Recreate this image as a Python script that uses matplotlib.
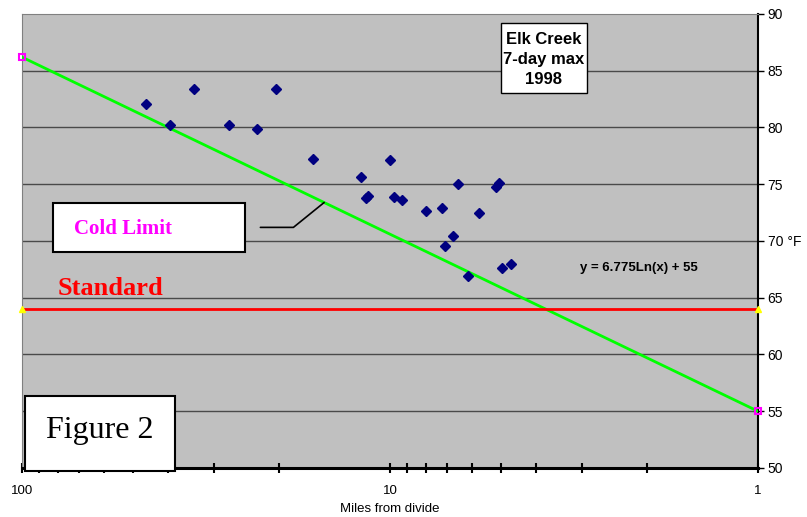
import numpy as np
import matplotlib
matplotlib.use("Agg")
import matplotlib.pyplot as plt
from matplotlib.patches import Rectangle
from matplotlib.ticker import FixedLocator, NullFormatter

############################################################################################################
# data
############################################################################################################

miles = [46.1, 39.5, 34.1, 27.3, 23.0, 20.4, 16.2, 12.0, 11.6, 11.5, 10.0, 9.73,
         9.28, 8.0, 7.21, 7.10, 6.75, 6.52, 6.13, 5.74, 5.15, 5.07, 4.96, 4.70]
temp_f = [82.1, 80.2, 83.4, 80.2, 79.9, 83.4, 77.2, 75.6, 73.8, 74.0, 77.1, 73.9,
          73.6, 72.6, 72.9, 69.6, 70.4, 75.0, 66.9, 72.5, 74.8, 75.1, 67.6, 68.0]

fit_slope = 6.775
fit_intercept = 55.0
fit_x = [100.0, 1.0]

standard_temp = 64.0
standard_x = [100.0, 1.0]

y_ticks = [50, 55, 60, 65, 70, 75, 80, 85, 90]
y_tick_labels = ["50", "55", "60", "65", "70 \u00b0F", "75", "80", "85", "90"]
x_ticks = [100, 10, 1]
x_tick_labels = ["100", "10", "1"]

SANS = "Liberation Sans"
SERIF = "Liberation Serif"

############################################################################################################

fig = plt.figure(figsize=(8.07, 5.17), dpi=100, facecolor="w")
ax = fig.add_axes([22 / 807, 49 / 517, 736 / 807, 454 / 517])
ax.set_facecolor("#c0c0c0")

ax.set_xscale("log")
ax.set_xlim(100, 1)
ax.set_ylim(50, 90)

# gridlines
for yv in y_ticks[1:-1]:
    ax.axhline(yv, color="#4a4a4a", lw=1.0, zorder=1)

# fit line
fx = np.array(fit_x)
fy = fit_slope * np.log(fx) + fit_intercept
ax.plot(fx, fy, color="#00ff00", lw=2, zorder=3)
ax.plot(fx, fy, ls="none", marker="s", ms=4.5, mfc="none", mec="#ff00ff", mew=1.5,
        clip_on=False, zorder=5)

# standard line
ax.plot(standard_x, [standard_temp] * 2, color="#ff0000", lw=2, zorder=3)
ax.plot(standard_x, [standard_temp] * 2, ls="none", marker="^", ms=4, mfc="#ffff00",
        mec="#ffff00", clip_on=False, zorder=5)

# data
ax.plot(miles, temp_f, ls="none", marker="D", ms=5.5, color="#000080", zorder=4)

# axes styling
ax.spines["left"].set_color("#808080")
ax.spines["top"].set_color("#808080")
ax.spines["right"].set_color("#000000")
ax.spines["right"].set_linewidth(1.5)
ax.spines["bottom"].set_color("#000000")
ax.spines["bottom"].set_linewidth(2.2)

ax.yaxis.tick_right()
ax.set_yticks(y_ticks)
ax.set_yticklabels(y_tick_labels, fontname=SANS, fontsize=10)
ax.tick_params(axis="y", which="both", direction="out", length=4, width=1, pad=3, left=False)

ax.xaxis.set_major_locator(FixedLocator(x_ticks))
ax.set_xticklabels(x_tick_labels, fontname=SANS, fontsize=9.5)
minor = [m * d for d in (1, 10) for m in range(2, 10)]
ax.xaxis.set_minor_locator(FixedLocator(minor))
ax.xaxis.set_minor_formatter(NullFormatter())
ax.tick_params(axis="x", which="both", direction="inout", length=7, width=1.5, pad=9)
ax.set_xlabel("Miles from divide", fontname=SANS, fontsize=9.5, labelpad=4)

# title box
ax.add_patch(Rectangle((0.6504, 0.826), 0.1169, 0.154, transform=ax.transAxes,
                       facecolor="white", edgecolor="black", lw=1, zorder=6))
ax.text(0.7089, 0.900, "Elk Creek\n7-day max\n1998", transform=ax.transAxes,
        ha="center", va="center", fontname=SANS, fontweight="bold", fontsize=12,
        linespacing=1.42, zorder=7)

# equation
ax.text(0.838, 0.44, "y = 6.775Ln(x) + 55", transform=ax.transAxes, ha="center", va="center",
        fontname=SANS, fontweight="bold", fontsize=9.5, zorder=7)

# cold limit box
ax.add_patch(Rectangle((0.0421, 0.4758), 0.2609, 0.1079, transform=ax.transAxes,
                       facecolor="white", edgecolor="black", lw=1.5, zorder=6))
ax.text(0.0707, 0.5148, "Cold Limit", transform=ax.transAxes, ha="left", va="baseline",
        fontname=SERIF, fontweight="bold", fontsize=15, color="#ff00ff", zorder=7)
ax.annotate("", xy=(15.1, fit_slope * np.log(15.1) + fit_intercept), xytext=(22.5, 71.2),
            arrowprops=dict(arrowstyle="-", color="black", lw=1.2, shrinkA=0, shrinkB=0,
                            connectionstyle="angle,angleA=0,angleB=39,rad=0"),
            zorder=7)

# standard label
ax.text(0.0489, 0.381, "Standard", transform=ax.transAxes, ha="left", va="baseline",
        fontname=SERIF, fontweight="bold", fontsize=19, color="#ff0000", zorder=7)

# figure 2 box
ax.add_patch(Rectangle((0.0041, -0.0066), 0.2038, 0.1652, transform=ax.transAxes,
                       facecolor="white", edgecolor="black", lw=1.5, zorder=6, clip_on=False))
ax.text(0.1055, 0.0654, "Figure 2", transform=ax.transAxes, ha="center", va="baseline",
        fontname=SERIF, fontsize=23, zorder=7)

fig.savefig("out.png", dpi=100, facecolor="w")
